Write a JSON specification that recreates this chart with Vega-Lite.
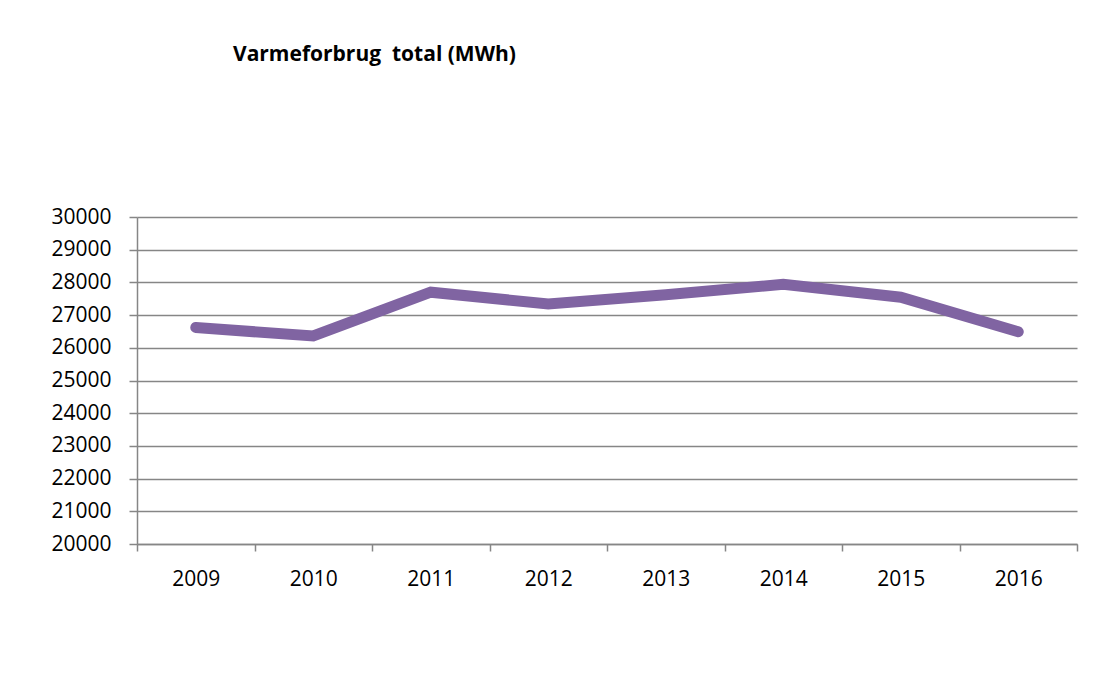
{
  "$schema": "https://vega.github.io/schema/vega-lite/v6.json",
  "width": 940,
  "height": 327,
  "autosize": {"type": "none"},
  "padding": {"left": 137, "top": 217, "right": 29, "bottom": 137},
  "background": "white",
  "title": {
    "text": "Varmeforbrug\u00a0 total (MWh)",
    "anchor": "start",
    "frame": "group",
    "dx": 96,
    "offset": 124,
    "baseline": "alphabetic",
    "font": "Open Sans",
    "fontSize": 21,
    "fontWeight": "bold",
    "color": "#000000"
  },
  "data": {
    "values": [
      {"year": 2009, "mwh": 26620},
      {"year": 2010, "mwh": 26360},
      {"year": 2011, "mwh": 27700},
      {"year": 2012, "mwh": 27340},
      {"year": 2013, "mwh": 27620},
      {"year": 2014, "mwh": 27940},
      {"year": 2015, "mwh": 27545},
      {"year": 2016, "mwh": 26490}
    ]
  },
  "mark": {"type": "line", "color": "#8064A2", "strokeWidth": 11, "strokeCap": "round", "strokeJoin": "miter"},
  "encoding": {
    "x": {
      "field": "year",
      "type": "quantitative",
      "scale": {"domain": [2008.5, 2016.5], "nice": false, "zero": false},
      "axis": {
        "title": null,
        "values": [2008.5, 2009.5, 2010.5, 2011.5, 2012.5, 2013.5, 2014.5, 2015.5, 2016.5],
        "labelExpr": "datum.value < 2016 ? format(datum.value + 0.5, 'd') : ''",
        "labelOffset": 58.75,
        "labelFlush": false,
        "labelOverlap": false,
        "grid": false,
        "domainColor": "#868686",
        "domainWidth": 1.5,
        "tickColor": "#868686",
        "tickWidth": 1.5,
        "tickSize": 7,
        "labelPadding": 17,
        "labelFont": "Open Sans",
        "labelFontSize": 21,
        "labelColor": "#000000",
        "labelBaseline": "top"
      }
    },
    "y": {
      "field": "mwh",
      "type": "quantitative",
      "scale": {"domain": [20000, 30000], "nice": false, "zero": false},
      "axis": {
        "title": null,
        "values": [20000, 21000, 22000, 23000, 24000, 25000, 26000, 27000, 28000, 29000, 30000],
        "format": "d",
        "grid": true,
        "gridColor": "#868686",
        "gridWidth": 1.5,
        "gridOpacity": 1,
        "domainColor": "#868686",
        "domainWidth": 1.5,
        "tickColor": "#868686",
        "tickWidth": 1.5,
        "tickSize": 8,
        "labelPadding": 18,
        "labelFlush": false,
        "labelOverlap": false,
        "labelFont": "Open Sans",
        "labelFontSize": 21,
        "labelColor": "#000000"
      }
    }
  },
  "config": {"view": {"stroke": null}}
}
